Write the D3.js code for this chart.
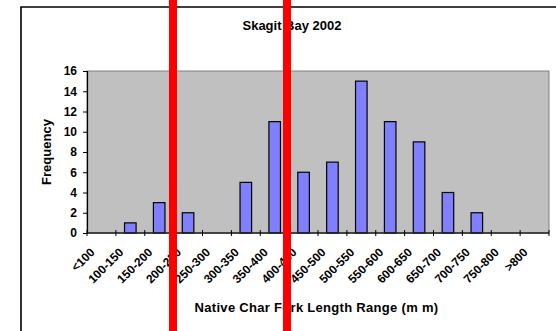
<!DOCTYPE html>
<html><head><meta charset="utf-8">
<script src="https://cdn.jsdelivr.net/npm/d3@7"></script>
<style>body{margin:0;background:#fff}svg{display:block;font-family:"Liberation Sans",Arial,sans-serif}</style>
</head><body>
<svg id="c" width="556" height="331"></svg>
<script>
const categories = ["<100","100-150","150-200","200-250","250-300","300-350","350-400","400-450","450-500","500-550","550-600","600-650","650-700","700-750","750-800",">800"];
const frequency = [0,1,3,2,0,5,11,6,7,15,11,9,4,2,0,0];
const yTicks = [0,2,4,6,8,10,12,14,16];
const title = "Skagit Bay 2002";
const xTitle = "Native Char Fork Length Range (m m)";
const yTitle = "Frequency";

const svg = d3.select("#c");
const m = {l:87, t:71, r:549, b:233};

// outer frame
svg.append("path").attr("d","M21,340V7H560").attr("fill","none").attr("stroke","#000").attr("stroke-width",1.6);

const x = d3.scaleBand().domain(categories).range([m.l,m.r]).paddingInner(0.6).paddingOuter(0.3);
const y = d3.scaleLinear().domain([0,16]).range([m.b,m.t]);

svg.append("rect").attr("x",m.l).attr("y",m.t).attr("width",m.r-m.l).attr("height",m.b-m.t)
  .attr("fill","#C0C0C0").attr("stroke","#808080").attr("stroke-width",1);

svg.selectAll("rect.bar").data(frequency.map((v,i)=>({c:categories[i],v})).filter(d=>d.v>0))
  .enter().append("rect").attr("class","bar")
  .attr("x",d=>x(d.c)).attr("width",x.bandwidth())
  .attr("y",d=>y(d.v)).attr("height",d=>y(0)-y(d.v))
  .attr("fill","#8080FF").attr("stroke","#000").attr("stroke-width",1.2);

// y axis
const ya = svg.append("g").attr("transform",`translate(${m.l},0)`)
  .call(d3.axisLeft(y).tickValues(yTicks).tickSize(4).tickPadding(6));
ya.select(".domain").attr("stroke","#000").attr("stroke-width",1.2);
ya.selectAll("text").attr("font-size",12).attr("font-weight","bold").attr("fill","#000").attr("font-family","Liberation Sans, Arial");

// x axis line and cross ticks at band boundaries
const step = x.step();
svg.append("line").attr("x1",m.l).attr("x2",m.r).attr("y1",m.b).attr("y2",m.b).attr("stroke","#222").attr("stroke-width",1.6);
svg.selectAll("line.xt").data(d3.range(categories.length+1)).enter().append("line")
  .attr("x1",i=>m.l+i*step).attr("x2",i=>m.l+i*step).attr("y1",m.b-3).attr("y2",m.b+3)
  .attr("stroke","#000").attr("stroke-width",1);

svg.selectAll("text.xl").data(categories).enter().append("text")
  .attr("transform",d=>`translate(${x(d)+x.bandwidth()/2-9},${m.b+17}) rotate(-45)`)
  .attr("text-anchor","end").attr("dy","0.35em")
  .attr("font-size",12).attr("font-weight","bold").text(d=>d);

svg.append("text").attr("x",292).attr("y",30).attr("text-anchor","middle")
  .attr("font-size",13).attr("font-weight","bold").text(title);
svg.append("text").attr("x",316.5).attr("y",312).attr("text-anchor","middle")
  .attr("font-size",13).attr("font-weight","bold").attr("letter-spacing",0.3).text(xTitle);
svg.append("text").attr("transform","translate(51,152) rotate(-90)").attr("text-anchor","middle")
  .attr("font-size",13).attr("font-weight","bold").text(yTitle);

// red overlay lines present in the reference image
[169,283].forEach(xx=>svg.append("rect").attr("x",xx).attr("y",0).attr("width",8).attr("height",331).attr("fill","#FF0000"));
</script>
</body></html>
